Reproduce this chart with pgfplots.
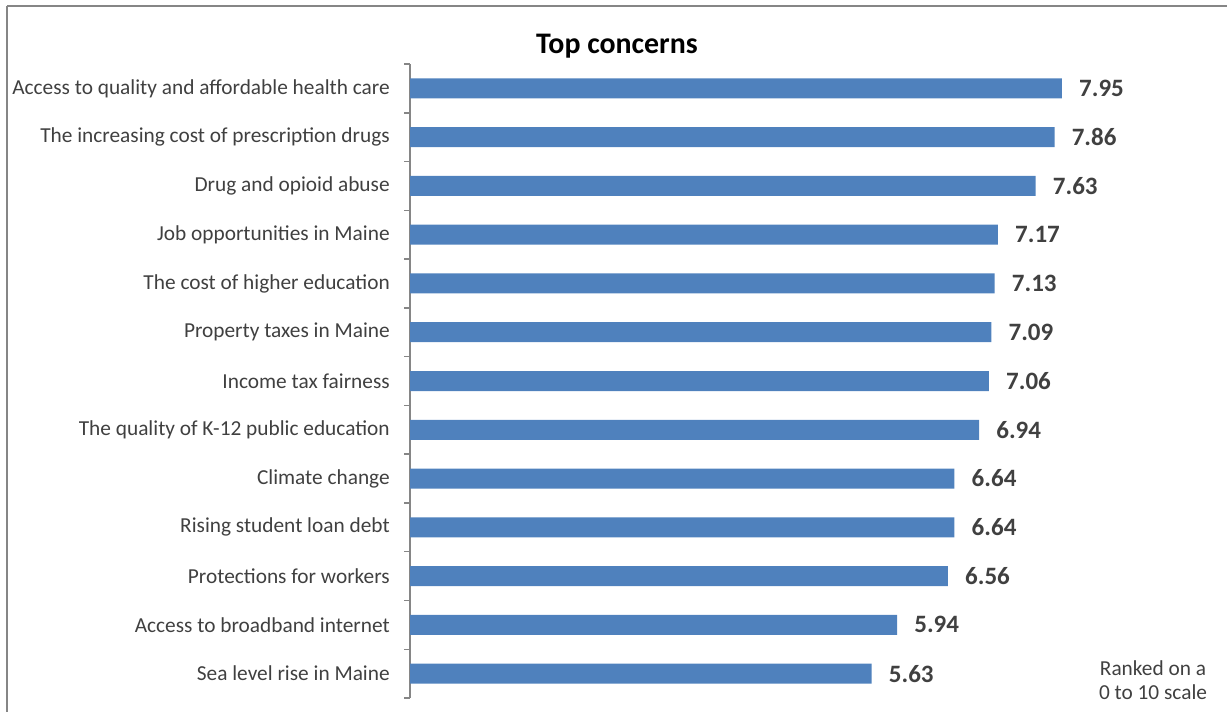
\documentclass[border=0pt]{standalone}
\usepackage{pgfplots}
\pgfplotsset{compat=1.18}
\usepackage{fontspec}
\setmainfont{Carlito}
\definecolor{barblue}{HTML}{4F81BD}
\definecolor{txt}{HTML}{404040}
\definecolor{axgrey}{HTML}{868686}
\begin{document}
\begin{tikzpicture}
\path[use as bounding box] (0pt,0pt) rectangle (920.25pt,533.25pt);
\draw[axgrey, line width=1.5pt] (5.25pt,528.75pt) -- (930pt,528.75pt);
\draw[axgrey, line width=1.5pt] (5.25pt,528.75pt) -- (5.25pt,-10pt);
\node[font=\bfseries\fontsize{22.4}{26}\selectfont, text=black] at (462.75pt,498.75pt) {Top concerns};
\node[font=\fontsize{16}{18.5}\selectfont, text=txt, align=center] at (864.75pt,23pt) {Ranked on a\\0 to 10 scale};
\begin{axis}[
  at={(307.5pt,9.75pt)}, anchor=south west,
  scale only axis, width=584.25pt, height=475.5pt,
  xbar, bar width=15pt,
  xmin=0, xmax=9.5, ymin=-0.5, ymax=12.5, y dir=reverse,
  axis x line=none, axis y line*=left,
  y axis line style={axgrey, line width=1.1pt},
  ytick={0,...,12},
  yticklabels={Access to quality and affordable health care,
    The increasing cost of prescription drugs,
    Drug and opioid abuse,
    Job opportunities in Maine,
    The cost of higher education,
    Property taxes in Maine,
    Income tax fairness,
    The quality of K-12 public education,
    Climate change,
    Rising student loan debt,
    Protections for workers,
    Access to broadband internet,
    Sea level rise in Maine},
  major tick length=0pt,
  minor ytick={-0.5,0.5,...,12.5},
  minor tick length=4.5pt,
  tick align=outside,
  minor tick style={axgrey, line width=1.1pt},
  yticklabel style={font=\fontsize{16}{18}\selectfont, text=txt, inner sep=0pt, xshift=-15pt},
  nodes near coords,
  point meta=x,
  nodes near coords style={font=\bfseries\fontsize{18.75}{20}\selectfont, text=txt, inner sep=0pt, xshift=12.75pt,
    /pgf/number format/.cd, fixed, precision=2, zerofill, assume math mode=true},
]
\addplot[fill=barblue, draw=none] coordinates {
(7.95,0) (7.86,1) (7.63,2) (7.17,3) (7.13,4) (7.09,5) (7.06,6)
(6.94,7) (6.64,8) (6.64,9) (6.56,10) (5.94,11) (5.63,12)};
\end{axis}
\end{tikzpicture}
\end{document}
